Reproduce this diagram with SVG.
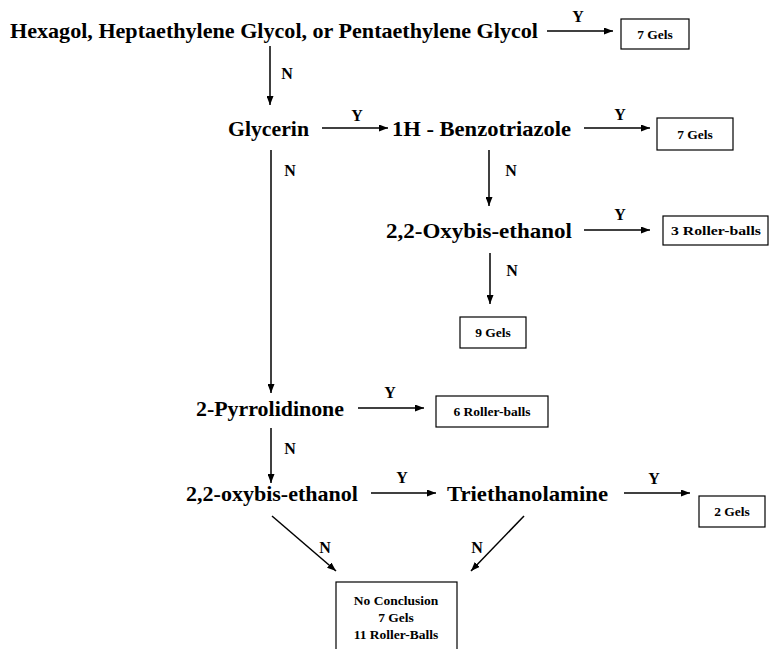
<svg xmlns="http://www.w3.org/2000/svg" width="769" height="649" viewBox="0 0 769 649">
<defs>
<marker id="ah" markerWidth="9" markerHeight="7" refX="9" refY="3.5" orient="auto" markerUnits="userSpaceOnUse">
<path d="M0,0 L9,3.5 L0,7 Z" fill="#000"/>
</marker>
<style>
.n{font-family:"Liberation Serif","Times New Roman",serif;font-weight:bold;font-size:22px;fill:#000}
.l{font-family:"Liberation Serif","Times New Roman",serif;font-weight:bold;font-size:16px;fill:#000;text-anchor:middle}
.b{font-family:"Liberation Serif","Times New Roman",serif;font-weight:bold;font-size:13.5px;fill:#000;text-anchor:middle}
.bx{fill:#fff;stroke:#000;stroke-width:1.2}
.c{stroke:#000;stroke-width:1.5;fill:none;marker-end:url(#ah)}
</style>
</defs>
<rect width="769" height="649" fill="#fff"/>
<g id="connectors">
<line class="c" x1="547" y1="31" x2="613" y2="31"/>
<line class="c" x1="270" y1="46" x2="270" y2="105"/>
<line class="c" x1="322" y1="128" x2="388" y2="128"/>
<line class="c" x1="584" y1="128" x2="650" y2="128"/>
<line class="c" x1="271" y1="150" x2="271" y2="393"/>
<line class="c" x1="489" y1="150" x2="489" y2="206"/>
<line class="c" x1="584" y1="230" x2="650" y2="230"/>
<line class="c" x1="490" y1="253" x2="490" y2="304"/>
<line class="c" x1="358" y1="408" x2="424" y2="408"/>
<line class="c" x1="271" y1="428" x2="271" y2="483"/>
<line class="c" x1="371" y1="493" x2="436" y2="493"/>
<line class="c" x1="624" y1="493" x2="690" y2="493"/>
<line class="c" x1="272" y1="516" x2="336" y2="571"/>
<line class="c" x1="524" y1="516" x2="471" y2="571"/>
<text class="l" x="578" y="22">Y</text>
<text class="l" x="287" y="79">N</text>
<text class="l" x="357" y="121">Y</text>
<text class="l" x="620" y="120">Y</text>
<text class="l" x="290" y="176">N</text>
<text class="l" x="511" y="176">N</text>
<text class="l" x="620" y="220">Y</text>
<text class="l" x="512" y="276">N</text>
<text class="l" x="390" y="398">Y</text>
<text class="l" x="290" y="454">N</text>
<text class="l" x="402" y="483">Y</text>
<text class="l" x="654" y="484">Y</text>
<text class="l" x="325" y="553">N</text>
<text class="l" x="477" y="553">N</text>
</g>
<g id="q1"><text class="n" x="10" y="38" textLength="528" lengthAdjust="spacingAndGlyphs">Hexagol, Heptaethylene Glycol, or Pentaethylene Glycol</text></g>
<g id="r1"><rect class="bx" x="621" y="19" width="68" height="30"/><text class="b" x="655" y="39">7 Gels</text></g>
<g id="q2"><text class="n" x="228" y="136" textLength="81" lengthAdjust="spacingAndGlyphs">Glycerin</text></g>
<g id="q3"><text class="n" x="392" y="136" textLength="179" lengthAdjust="spacingAndGlyphs">1H - Benzotriazole</text></g>
<g id="r2"><rect class="bx" x="657" y="118" width="76" height="32"/><text class="b" x="695" y="139">7 Gels</text></g>
<g id="q4"><text class="n" x="386" y="238" textLength="186" lengthAdjust="spacingAndGlyphs">2,2-Oxybis-ethanol</text></g>
<g id="r3"><rect class="bx" x="663" y="216" width="105" height="29"/><text class="b" x="716" y="235" textLength="90" lengthAdjust="spacingAndGlyphs">3 Roller-balls</text></g>
<g id="r4"><rect class="bx" x="460" y="317" width="66" height="31"/><text class="b" x="493" y="337">9 Gels</text></g>
<g id="q5"><text class="n" x="196" y="416" textLength="148" lengthAdjust="spacingAndGlyphs">2-Pyrrolidinone</text></g>
<g id="r5"><rect class="bx" x="436" y="396" width="112" height="31"/><text class="b" x="492" y="416">6 Roller-balls</text></g>
<g id="q6"><text class="n" x="186" y="501" textLength="172" lengthAdjust="spacingAndGlyphs">2,2-oxybis-ethanol</text></g>
<g id="q7"><text class="n" x="447" y="501" textLength="161" lengthAdjust="spacingAndGlyphs">Triethanolamine</text></g>
<g id="r6"><rect class="bx" x="699" y="496" width="66" height="31"/><text class="b" x="732" y="516">2 Gels</text></g>
<g id="r7"><rect class="bx" x="336" y="582" width="121" height="75"/><text class="b" x="396" y="605">No Conclusion</text><text class="b" x="396" y="622">7 Gels</text><text class="b" x="396" y="639">11 Roller-Balls</text></g>
</svg>
